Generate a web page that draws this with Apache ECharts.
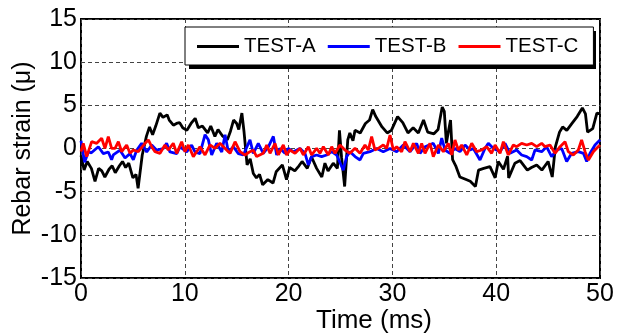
<!DOCTYPE html>
<html><head><meta charset="utf-8">
<script src="https://cdn.jsdelivr.net/npm/echarts@6/dist/echarts.min.js"></script>
<style>html,body{margin:0;padding:0;background:#fff}#c{width:626px;height:333px}</style>
</head><body><div id="c"></div>
<script>
var seriesNames = ['TEST-A','TEST-B','TEST-C'];
var xTicks = [0,10,20,30,40,50];
var yTicks = [-15,-10,-5,0,5,10,15];
var testA = [[0,-0.8],[0.3,-2.5],[0.6,-1.5],[1,-2.3],[1.35,-3.8],[1.7,-2.3],[2,-2.6],[2.3,-3.3],[2.7,-2.4],[3,-2.0],[3.3,-2.8],[3.7,-2.0],[4,-1.5],[4.3,-2.2],[4.6,-1.7],[5,-3.4],[5.3,-3.0],[5.5,-4.6],[5.9,-0.75],[6.3,1.4],[6.6,2.5],[6.9,1.6],[7.2,2.6],[7.6,4.1],[7.9,3.6],[8.3,3.9],[8.5,3.3],[8.9,2.7],[9.2,2.9],[9.5,3.0],[9.8,2.4],[10.2,2.1],[10.6,2.9],[11,3.5],[11.3,2.4],[11.7,2.6],[12.2,1.8],[12.5,2.6],[12.9,1.4],[13.2,2.2],[13.6,1.5],[14.1,1.0],[14.4,2.0],[14.7,3.3],[15,2.9],[15.2,2.2],[15.5,4.1],[15.7,2.0],[16.0,-1.9],[16.3,-1.2],[16.6,-2.9],[16.9,-3.4],[17.2,-3.0],[17.5,-4.2],[18,-3.6],[18.5,-4.0],[18.8,-2.7],[19.4,-1.9],[19.8,-3.6],[20.1,-2.2],[20.6,-2.6],[21,-2.0],[21.3,-1.5],[21.8,-2.3],[22.2,-0.95],[22.7,-2.3],[23.2,-3.3],[23.5,-1.7],[23.8,-2.6],[24.3,-1.7],[24.7,-2.3],[24.9,2.1],[25.1,-1.0],[25.4,-4.4],[25.7,1.0],[25.9,1.8],[26.2,0.9],[26.4,2.1],[26.9,1.8],[27.4,2.9],[27.8,3.3],[28.1,4.5],[28.4,3.7],[29,2.5],[29.5,1.8],[29.9,2.1],[30.5,3.7],[31,3.0],[31.5,1.8],[32,2.4],[32.5,1.8],[33,3.3],[33.4,1.9],[34,1.7],[34.4,2.2],[34.8,4.8],[35.0,4.3],[35.2,0.6],[35.4,2.0],[35.6,3.3],[35.8,-1.3],[36.1,-2.0],[36.5,-3.3],[37.1,-3.6],[37.5,-3.8],[38,-4.4],[38.3,-2.5],[38.8,-2.3],[39.4,-2.1],[39.9,-3.4],[40.2,-1.5],[40.7,-2.4],[41.1,-0.9],[41.2,-3.4],[41.8,-1.7],[42.3,-1.4],[43,-2.5],[43.4,-2.2],[43.9,-1.9],[44.4,-2.5],[45,-1.5],[45.4,-3.3],[45.7,0.2],[46.1,1.9],[46.4,2.5],[46.8,2.1],[47.3,2.9],[47.8,3.7],[48.3,4.7],[48.6,4.0],[48.8,1.9],[49.3,2.3],[49.7,4.1],[50,4.0]];
var testB = [[0,0.9],[0.35,-1.6],[0.7,-0.4],[1.0,-0.5],[1.67,0.2],[2.15,-0.6],[2.63,-0.4],[2.95,-1.3],[3.11,-0.75],[3.76,-0.2],[4.24,-1.1],[4.72,-0.6],[5.04,-1.3],[5.36,-0.2],[5.84,0.6],[6.33,-0.4],[6.81,0.4],[7.29,-0.2],[7.93,0.0],[8.25,0.6],[8.57,-0.4],[9.22,-0.6],[9.54,0.2],[10.18,-0.4],[10.66,0.4],[10.98,-0.4],[11.46,-0.6],[11.95,1.6],[12.27,1.0],[12.59,-0.75],[13.07,0.6],[13.56,-0.4],[13.88,1.6],[14.2,-0.4],[14.68,0.2],[15.16,-0.6],[15.64,-0.75],[16.28,1.0],[16.6,-0.56],[17.08,0.6],[17.56,-0.56],[18.05,0.2],[18.53,1.4],[18.85,-0.75],[19.17,0.0],[19.65,-0.56],[19.97,0.0],[20.45,-0.37],[21.1,0.0],[21.58,-0.56],[21.9,-1.9],[22.22,-0.94],[22.7,-0.75],[23.18,-0.94],[23.67,-0.75],[24.15,-0.37],[24.63,-0.75],[25.27,-2.5],[25.59,-0.94],[25.91,-0.37],[26.4,-0.94],[26.88,-1.33],[27.2,-0.56],[27.84,-0.37],[28.48,0.0],[29.12,-0.37],[29.77,0.0],[30.41,-0.37],[31.05,0.4],[31.7,-0.37],[32.34,0.6],[32.66,-0.56],[33.14,0.2],[33.94,0.6],[34.43,-0.56],[34.75,1.2],[35.07,-0.17],[35.55,-0.56],[36.03,0.0],[36.51,-0.37],[37.0,0.4],[37.48,-0.17],[37.8,0.0],[38.44,-1.33],[38.92,0.0],[39.24,0.6],[39.73,0.0],[40.37,-0.37],[40.85,0.6],[41.33,-0.56],[41.97,-0.17],[42.45,-0.75],[42.94,-0.94],[43.42,-1.33],[43.74,-0.17],[44.38,-0.37],[44.86,0.2],[45.34,-0.94],[45.83,-0.17],[46.31,0.0],[46.79,-1.5],[47.27,-0.56],[47.91,-0.37],[48.4,-0.56],[48.72,-1.5],[49.04,-0.56],[49.52,0.4],[50,1.0]];
var testC = [[0,-0.37],[0.22,0.6],[0.55,-0.94],[1.03,0.79],[1.51,0.6],[1.99,1.18],[2.31,0.02],[2.63,1.37],[2.95,0.02],[3.28,0.02],[3.6,0.79],[3.92,-0.37],[4.4,0.41],[4.72,-0.56],[5.04,-0.17],[5.52,-0.37],[6.17,0.6],[6.49,0.99],[6.81,0.21],[7.13,-0.37],[7.61,-0.56],[8.09,0.41],[8.41,-0.17],[8.89,0.6],[9.22,-0.56],[9.7,0.79],[10.02,-0.37],[10.34,0.41],[10.82,-0.94],[11.14,-0.37],[11.46,0.21],[11.95,-0.75],[12.43,0.41],[12.91,0.02],[13.39,0.6],[14.03,-0.17],[14.36,-0.56],[14.84,0.79],[15.32,-0.37],[15.8,-0.75],[16.28,-0.37],[16.6,-0.2],[16.92,-0.94],[17.08,-1.14],[17.56,-0.56],[17.89,0.41],[18.21,-0.56],[18.69,0.6],[19.01,-0.75],[19.49,0.41],[19.81,-0.75],[20.13,-0.17],[20.62,-0.56],[21.1,0.02],[21.42,-0.75],[21.9,0.21],[22.22,-0.75],[22.7,0.02],[23.02,-0.56],[23.35,0.21],[23.83,-0.75],[24.15,0.21],[24.47,-0.56],[24.95,0.41],[25.43,-0.17],[25.91,-0.56],[26.4,0.02],[26.88,-0.56],[27.36,0.41],[27.68,-0.17],[28.0,1.37],[28.32,-0.17],[28.64,0.02],[29.12,0.41],[29.45,0.02],[29.77,1.56],[30.09,-0.17],[30.41,0.21],[30.89,-0.37],[31.21,0.79],[31.7,-0.37],[32.02,0.6],[32.5,-0.56],[32.82,0.6],[33.14,-0.56],[33.62,0.6],[33.94,-0.94],[34.43,0.41],[34.91,-0.37],[35.39,0.6],[35.71,-0.75],[36.03,0.99],[36.35,-0.17],[36.67,0.41],[37.16,-0.75],[37.64,0.6],[38.12,-0.37],[38.6,-0.17],[39.08,0.21],[39.56,-0.56],[39.89,0.41],[40.37,-0.56],[40.69,0.79],[41.17,-0.75],[41.65,0.41],[41.97,0.21],[42.45,0.6],[42.94,0.41],[43.42,0.6],[43.9,0.21],[44.38,0.6],[44.7,0.21],[45.18,0.41],[45.67,-0.56],[46.15,0.21],[46.63,0.79],[46.95,-0.37],[47.43,-0.75],[47.91,-0.17],[48.23,0.99],[48.56,-0.37],[48.88,-1.33],[49.36,-0.37],[49.68,0.02],[50.0,0.41]];
var colors = ['#000000','#0000ff','#ff0000'];
var FONT = 'Liberation Sans, Arial, sans-serif';
var chart = echarts.init(document.getElementById('c'), null, {renderer:'canvas'});
function mk(name, data, color){
  return {name:name, type:'line', data:data, symbol:'none', showSymbol:false,
    lineStyle:{color:color, width:2.8}, itemStyle:{color:color}, animation:false};
}
chart.setOption({
  animation:false,
  backgroundColor:'#ffffff',
  grid:{left:81, right:26, top:19, bottom:55, containLabel:false, outerBoundsMode:'none',
    show:true, borderColor:'#000', borderWidth:2, backgroundColor:'transparent'},
  graphic:[{type:'rect', z:3, shape:{x:189, y:31, width:407, height:38}, style:{fill:'#000'}, silent:true}],
  legend:{left:185, top:27, padding:[9,15,8,12], itemWidth:42, itemHeight:3, itemGap:12, icon:'rect',
    backgroundColor:'#fff', borderColor:'#000', borderWidth:1, z:4,
    textStyle:{fontFamily:FONT, fontSize:20.5, color:'#000'},
    data:seriesNames},
  xAxis:{type:'value', min:xTicks[0], max:xTicks[xTicks.length-1], interval:10,
    name:'Time (ms)', nameLocation:'middle', nameGap:30, nameMoveOverlap:false,
    nameTextStyle:{fontFamily:FONT, fontSize:26, color:'#000', padding:[0,0,0,67]},
    axisLine:{show:false}, axisTick:{show:false},
    axisLabel:{fontFamily:FONT, fontSize:25, color:'#000', margin:4},
    splitLine:{show:true, lineStyle:{color:'#444', width:1, type:[4,3]}}},
  yAxis:{type:'value', min:yTicks[0], max:yTicks[yTicks.length-1], interval:5,
    name:'Rebar strain (μ)', nameLocation:'middle', nameGap:45, nameMoveOverlap:false,
    nameTextStyle:{fontFamily:FONT, fontSize:25, color:'#000'},
    axisLine:{show:false}, axisTick:{show:false},
    axisLabel:{fontFamily:FONT, fontSize:25, color:'#000', margin:4},
    splitLine:{show:true, lineStyle:{color:'#444', width:1, type:[4,3]}}},
  series:[mk(seriesNames[0], testA, colors[0]), mk(seriesNames[1], testB, colors[1]), mk(seriesNames[2], testC, colors[2])]
});
</script></body></html>
